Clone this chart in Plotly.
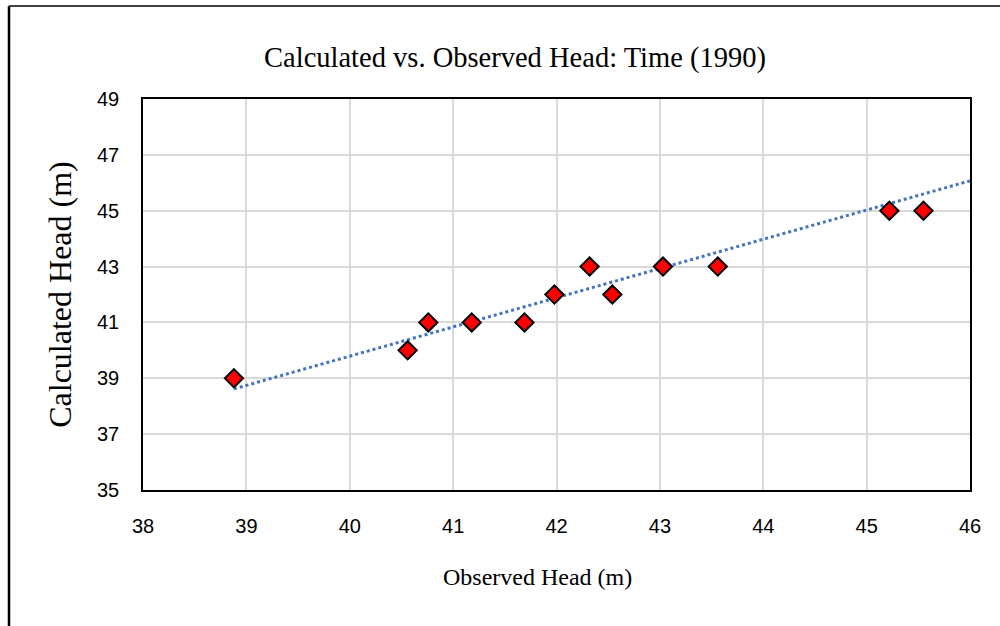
import plotly.graph_objects as go

observed = [38.88, 40.56, 40.76, 41.18, 41.69, 41.98, 42.32, 42.54, 43.03, 43.56, 45.22, 45.55]
calculated = [39, 40, 41, 41, 41, 42, 43, 42, 43, 43, 45, 45]
trend_x = [38.88, 46.0]
trend_y = [38.62, 46.07]

fig = go.Figure()
fig.add_trace(go.Scatter(x=trend_x, y=trend_y, mode="lines",
                         line=dict(color="#4472C4", width=3, dash="dot"),
                         showlegend=False, hoverinfo="skip"))
fig.add_trace(go.Scatter(x=observed, y=calculated, mode="markers",
                         marker=dict(symbol="diamond", size=14, color="#FF0000",
                                     line=dict(color="black", width=2)),
                         showlegend=False))

L, R, T, B = 143, 30, 99, 136
W, H = 1000, 626
pw, ph = W - L - R, H - T - B

def px(xp):
    return (xp - L) / pw

def py(yp):
    return (H - B - yp) / ph

fig.update_layout(
    width=W, height=H,
    margin=dict(l=L, r=R, t=T, b=B),
    paper_bgcolor="white", plot_bgcolor="white",
    title=dict(text="Calculated vs. Observed Head: Time (1990)",
               font=dict(family="Liberation Serif", size=28.5, color="black"),
               x=515 / W, xanchor="center", y=1 - 57 / H, yanchor="middle"),
    xaxis=dict(range=[38, 46], dtick=1, tick0=38, showgrid=True,
               gridcolor="#d9d9d9", gridwidth=1.5,
               showline=True, linecolor="black", linewidth=1.5, mirror=True,
               zeroline=False, ticks="", ticklabelstandoff=17,
               tickfont=dict(family="Liberation Sans", size=20, color="black")),
    yaxis=dict(range=[35, 49], dtick=2, tick0=35, showgrid=True,
               gridcolor="#d9d9d9", gridwidth=1.5,
               showline=True, linecolor="black", linewidth=1.5, mirror=True,
               zeroline=False, ticks="", ticklabelstandoff=18,
               tickfont=dict(family="Liberation Sans", size=20, color="black"),
               title=dict(text="Calculated Head (m)", standoff=16,
                          font=dict(family="Liberation Serif", size=32, color="black"))),
    annotations=[
        dict(text="Observed Head (m)", xref="paper", yref="paper",
             x=px(537), y=py(577), xanchor="center", yanchor="middle",
             showarrow=False,
             font=dict(family="Liberation Serif", size=24, color="black")),
    ],
    shapes=[
        dict(type="line", xref="paper", yref="paper",
             x0=px(9), x1=px(9), y0=py(6), y1=py(640),
             line=dict(color="black", width=2.5)),
        dict(type="line", xref="paper", yref="paper",
             x0=px(9), x1=px(1010), y0=py(6), y1=py(6),
             line=dict(color="#404040", width=2)),
    ],
)

fig.write_html("out.html", config={"displayModeBar": False},
               post_script="document.body.style.margin='0px';")
